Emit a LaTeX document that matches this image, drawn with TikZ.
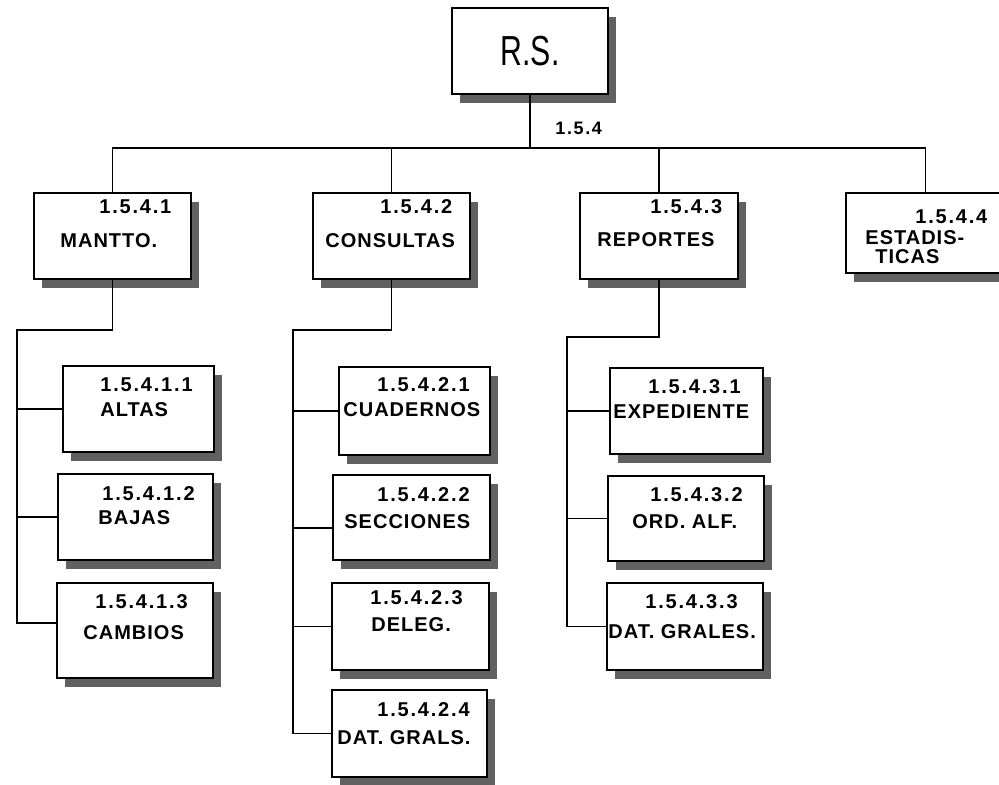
\documentclass[tikz,border=0pt]{standalone}
\usepackage{fontspec}
\setmainfont{Liberation Sans}
\newfontfamily\lblfont[LetterSpace=5]{Liberation Sans}
\newfontfamily\numfont[LetterSpace=9]{Liberation Sans}
\usetikzlibrary{shadows}
\tikzset{
  pbox/.style={draw, line width=0.9pt, fill=white, inner sep=0pt,
    general shadow={fill=black!62, shadow xshift=4pt, shadow yshift=-4.5pt}},
  lbl/.style={anchor=west, inner sep=0pt, font=\lblfont\bfseries\fontsize{10}{11}\selectfont},
  num/.style={anchor=west, inner sep=0pt, font=\numfont\bfseries\fontsize{10}{11}\selectfont},
  conn/.style={line width=0.9pt},
}
\newcommand\mybox[5]{\node[pbox, minimum width={(#4-#2)*0.5pt}, minimum height={(#5-#3)*0.5pt}] (#1) at ({(#2+#4)/2},{(#3+#5)/2}) {};}
\begin{document}
\begin{tikzpicture}[x=0.5pt, y=-0.5pt]
\useasboundingbox (0,0) rectangle (999,784);
% root
\node[pbox, minimum width=78pt, minimum height=43pt, font=\fontsize{21}{22}\selectfont] (rs) at (530,51) {\scalebox{0.72}[1]{R.S.}};
\node[num, font=\numfont\bfseries\fontsize{9}{10}\selectfont] (rsnum) at (555,128) {1.5.4};
% level 1
\mybox{m1}{34}{193}{191}{279}
\mybox{m2}{313}{193}{470}{279}
\mybox{m3}{580}{193}{738}{279}
\mybox{m4}{846}{193}{1005}{273}
\node[num] (m1a) at (99,207) {1.5.4.1};
\node[lbl] (m1b) at (60,241) {MANTTO.};
\node[num] (m2a) at (380,207) {1.5.4.2};
\node[lbl] (m2b) at (325,241) {CONSULTAS};
\node[num] (m3a) at (650,207) {1.5.4.3};
\node[lbl] (m3b) at (597,240) {REPORTES};
\node[num] (m4a) at (915,217) {1.5.4.4};
\node[lbl] (m4b) at (865,238) {ESTADIS-};
\node[lbl] (m4c) at (875,257) {TICAS};
% MANTTO children
\mybox{c11}{63}{366}{214}{452}
\mybox{c12}{58}{474}{213}{560}
\mybox{c13}{57}{583}{213}{678}
\node[num] (c11a) at (100,385) {1.5.4.1.1};
\node[lbl] (c11b) at (100,410) {ALTAS};
\node[num] (c12a) at (102,494) {1.5.4.1.2};
\node[lbl] (c12b) at (98,518) {BAJAS};
\node[num] (c13a) at (95,602) {1.5.4.1.3};
\node[lbl] (c13b) at (83,633) {CAMBIOS};
% CONSULTAS children
\mybox{c21}{339}{367}{490}{455}
\mybox{c22}{333}{475}{490}{560}
\mybox{c23}{332}{583}{489}{670}
\mybox{c24}{332}{690}{487}{777}
\node[num] (c21a) at (377,385) {1.5.4.2.1};
\node[lbl] (c21b) at (343,410) {CUADERNOS};
\node[num] (c22a) at (377,495) {1.5.4.2.2};
\node[lbl] (c22b) at (344,522) {SECCIONES};
\node[num] (c23a) at (370,598) {1.5.4.2.3};
\node[lbl] (c23b) at (371,625) {DELEG.};
\node[num] (c24a) at (377,710) {1.5.4.2.4};
\node[lbl] (c24b) at (337,738) {DAT. GRALS.};
% REPORTES children
\mybox{c31}{610}{368}{763}{454}
\mybox{c32}{608}{476}{764}{561}
\mybox{c33}{607}{583}{763}{670}
\node[num] (c31a) at (648,387) {1.5.4.3.1};
\node[lbl] (c31b) at (613,412) {EXPEDIENTE};
\node[num] (c32a) at (650,495) {1.5.4.3.2};
\node[lbl] (c32b) at (632,522) {ORD. ALF.};
\node[num] (c33a) at (645,602) {1.5.4.3.3};
\node[lbl] (c33b) at (608,632) {DAT. GRALES.};
% connectors
\coordinate (bus) at (530,148);
\draw[conn] (rs.south) -- (bus);
\draw[conn] (m1.north) |- (bus) -| (m4.north);
\draw[conn] (m2.north) -- (m2.north |- bus);
\draw[conn] (m3.north) -- (m3.north |- bus);
\coordinate (k1) at (17,330);
\draw[conn] (m1.south) |- (k1) |- ([yshift=3.75pt]c13.west);
\draw[conn] (c11.west) -- (c11.west -| k1);
\draw[conn] (c12.west) -- (c12.west -| k1);
\coordinate (k2) at (293,330);
\draw[conn] (m2.south) |- (k2) |- (c24.west);
\draw[conn] (c21.west) -- (c21.west -| k2);
\draw[conn] ([yshift=-5.25pt]c22.west) -- ([yshift=-5.25pt]c22.west -| k2);
\draw[conn] (c23.west) -- (c23.west -| k2);
\coordinate (k3) at (567,337);
\draw[conn] (m3.south) |- (k3) |- (c33.west);
\draw[conn] (c31.west) -- (c31.west -| k3);
\draw[conn] (c32.west) -- (c32.west -| k3);
\end{tikzpicture}
\end{document}
